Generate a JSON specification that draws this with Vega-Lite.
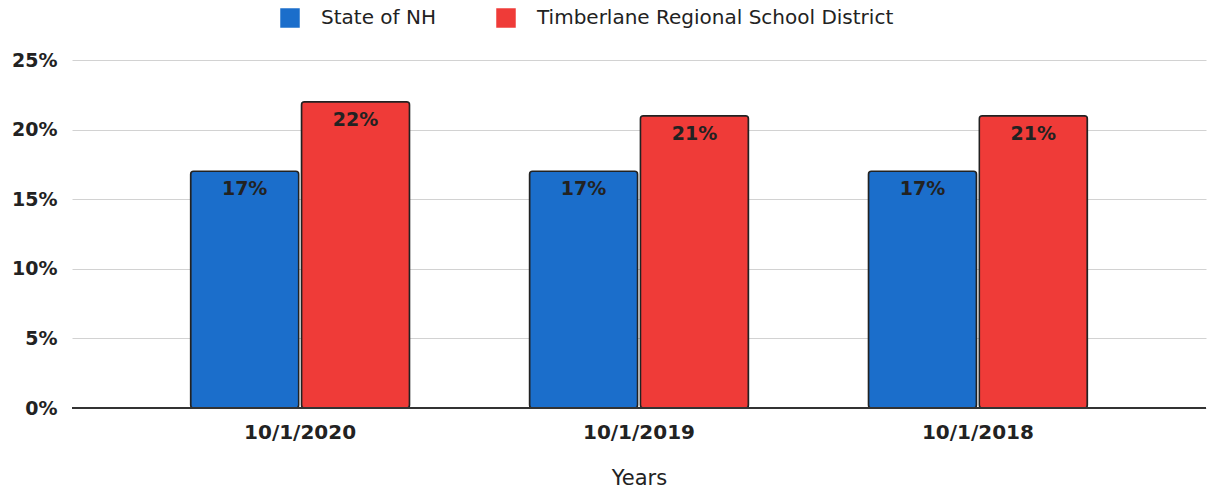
{
  "$schema": "https://vega.github.io/schema/vega-lite/v6.json",
  "width": 1134,
  "height": 348,
  "autosize": {"type": "none"},
  "padding": {"left": 72, "top": 60, "right": 3, "bottom": 83},
  "background": "white",
  "config": {
    "view": {"stroke": null},
    "font": "DejaVu Sans"
  },
  "data": {
    "values": [
      {"year": "10/1/2020", "series": "State of NH", "value": 0.17},
      {"year": "10/1/2020", "series": "Timberlane Regional School District", "value": 0.22},
      {"year": "10/1/2019", "series": "State of NH", "value": 0.17},
      {"year": "10/1/2019", "series": "Timberlane Regional School District", "value": 0.21},
      {"year": "10/1/2018", "series": "State of NH", "value": 0.17},
      {"year": "10/1/2018", "series": "Timberlane Regional School District", "value": 0.21}
    ]
  },
  "encoding": {
    "x": {
      "field": "year",
      "type": "nominal",
      "sort": null,
      "scale": {"paddingInner": 0.354, "paddingOuter": 0.35},
      "axis": {
        "title": "Years",
        "titleFont": "DejaVu Sans",
        "titleFontSize": 21,
        "titleFontWeight": "normal",
        "titleColor": "#222",
        "titlePadding": 25,
        "labelFont": "DejaVu Sans",
        "labelFontSize": 20,
        "labelFontWeight": "bold",
        "labelColor": "#222",
        "labelAngle": 0,
        "labelPadding": 14,
        "ticks": false,
        "domain": false
      }
    },
    "xOffset": {
      "field": "series",
      "type": "nominal",
      "scale": {"paddingInner": 0.025}
    },
    "y": {
      "field": "value",
      "type": "quantitative",
      "scale": {"domain": [0, 0.25], "nice": false},
      "axis": {
        "title": null,
        "format": ".0%",
        "values": [0, 0.05, 0.1, 0.15, 0.2, 0.25],
        "labelFont": "DejaVu Sans",
        "labelFontSize": 19,
        "labelFontWeight": "bold",
        "labelColor": "#222",
        "labelPadding": 15,
        "ticks": false,
        "domain": false,
        "gridColor": "#d2d2d2",
        "gridWidth": 1
      }
    }
  },
  "layer": [
    {
      "mark": {"type": "bar", "stroke": "#222", "strokeWidth": 1.5, "cornerRadius": 3},
      "encoding": {
        "color": {
          "field": "series",
          "type": "nominal",
          "scale": {
            "domain": ["State of NH", "Timberlane Regional School District"],
            "range": ["#1b6ecb", "#ef3b38"]
          },
          "legend": {
            "title": null,
            "orient": "none",
            "direction": "horizontal",
            "legendX": 208,
            "legendY": -52,
            "symbolType": "square",
            "symbolSize": 380,
            "symbolStrokeWidth": 0,
            "labelFont": "DejaVu Sans",
            "labelFontSize": 20,
            "labelColor": "#222",
            "labelOffset": 21,
            "labelLimit": 0,
            "columnPadding": 60
          }
        }
      }
    },
    {
      "mark": {
        "type": "text",
        "baseline": "top",
        "dy": 9,
        "fontSize": 19,
        "fontWeight": "bold",
        "color": "#222",
        "font": "DejaVu Sans"
      },
      "encoding": {
        "text": {"field": "value", "type": "quantitative", "format": ".0%"}
      }
    },
    {
      "mark": {"type": "rule", "color": "#333", "strokeWidth": 2},
      "encoding": {"y": {"datum": 0}, "x": null, "xOffset": null}
    }
  ]
}
